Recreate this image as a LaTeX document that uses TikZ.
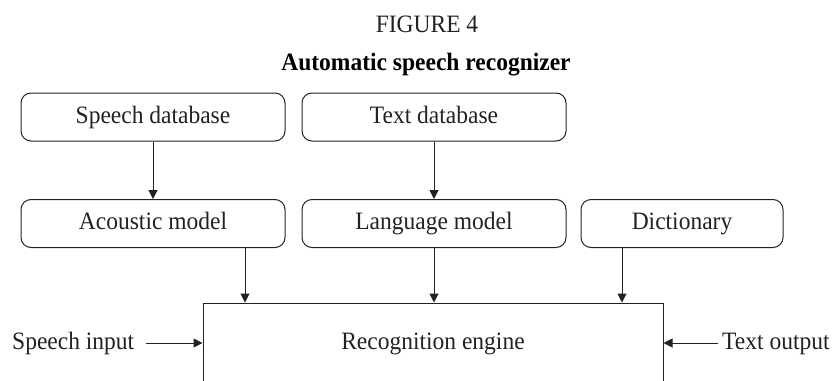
\documentclass[tikz,border=0pt]{standalone}
\usepackage{fontspec}
\setmainfont[FakeStretch=0.94]{Liberation Serif}
\usetikzlibrary{arrows.meta}
\definecolor{ink}{HTML}{222222}
\tikzset{
  box/.style={draw=ink, line width=1pt, rounded corners=10pt, minimum height=48pt,
    text height=17pt, text depth=5pt, inner sep=0pt},
  label/.style={text height=17pt, text depth=5pt, inner sep=0pt, text=ink},
  arr/.style={draw=ink, line width=1pt, -{Triangle[width=9pt,length=9pt]}},
}
\begin{document}
\begin{tikzpicture}[x=1pt, y=-1pt, font=\fontsize{25}{29}\selectfont, text=ink]
\useasboundingbox (0,0) rectangle (834,380);

% headings
\node[anchor=base, inner sep=0pt] (fig) at (427,32) {FIGURE 4};
\node[anchor=base, inner sep=0pt, font=\fontsize{25}{29}\selectfont\bfseries, text=black] (title) at (426,70) {Automatic speech recognizer};

% data sources
\node[box, minimum width=264pt] (sdb) at (153,117) {Speech database};
\node[box, minimum width=264pt] (tdb) at (434,117) {Text database};

% models
\node[box, minimum width=264pt] (am) at (153,223.5) {Acoustic model};
\node[box, minimum width=264pt] (lm) at (434,223.5) {Language model};
\node[box, minimum width=202pt] (dict) at (682,223.5) {Dictionary};

% recognition engine (open at the bottom edge of the page)
\node[draw=ink, line width=1pt, minimum width=460pt, minimum height=80pt,
  text height=17pt, text depth=5pt, inner sep=0pt] (eng) at (433,343) {Recognition engine};

% input and output labels
\node[label, anchor=west] (sin) at (12,343) {Speech input};
\node[label, anchor=west] (tout) at (722,343) {Text output};

% connectors
\draw[arr] (sdb.south) -- (am.north);
\draw[arr] (tdb.south) -- (lm.north);
\draw[arr] (am.south -| 245,0) -- (eng.north -| 245,0);
\draw[arr] (lm.south) -- (eng.north -| lm.south);
\draw[arr] (dict.south -| 622,0) -- (eng.north -| 622,0);
\draw[arr] ([xshift=12pt]sin.east) -- (eng.west);
\draw[arr] ([xshift=-4pt]tout.west) -- (eng.east);
\end{tikzpicture}
\end{document}
